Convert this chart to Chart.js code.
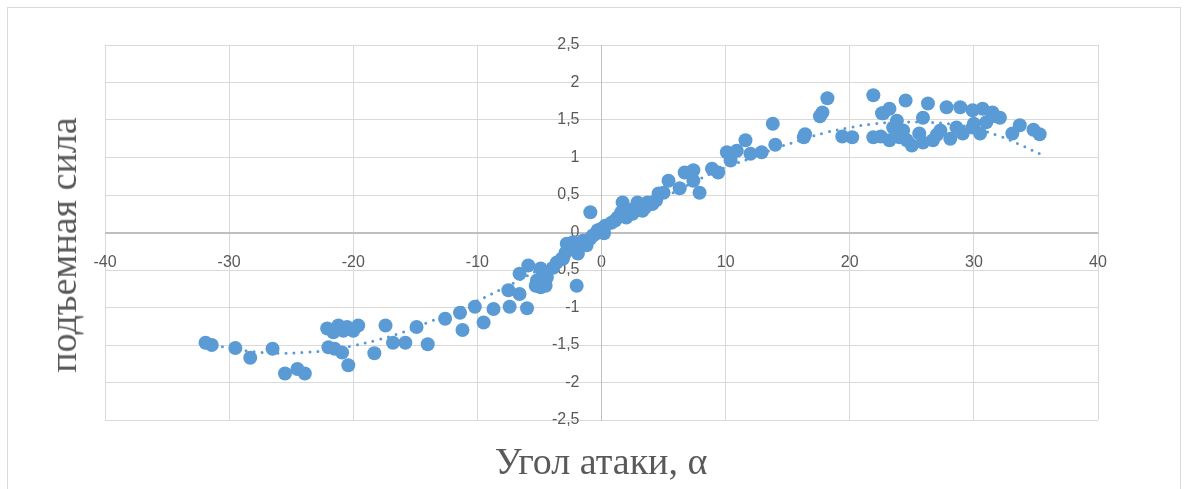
<!DOCTYPE html>
<html>
<head>
<meta charset="utf-8">
<script src="https://cdn.jsdelivr.net/npm/chart.js@4"></script>
<style>
  html, body { margin: 0; padding: 0; background: #fff; }
  #wrap { position: relative; width: 1186px; height: 489px; overflow: hidden; }
  #frame { position: absolute; left: 7px; top: 7px; width: 1172px; height: 500px; border: 1px solid #d9d9d9; }
  #chart { position: absolute; left: 0; top: 0; }
  .title { position: absolute; font-family: "Liberation Serif", "DejaVu Serif", serif; font-size: 38px; color: #595959; white-space: nowrap; }
  #xTitle { left: 601px; top: 461px; transform: translate(-50%, -50%); }
  #yTitle { left: 63px; top: 245px; transform: translate(-50%, -50%) rotate(-90deg); }
</style>
</head>
<body>
<div id="wrap">
  <div id="frame"></div>
  <canvas id="chart" width="1186" height="489"></canvas>
  <div class="title" id="xTitle">Угол атаки, α</div>
  <div class="title" id="yTitle">подъемная сила</div>
</div>
<script>
// measured points: angle of attack and lift
const alphaPts = [
  -31.9, -31.4, -29.5, -28.3, -26.5, -25.5, -24.5, -23.9,
  -22.1, -21.2, -20.5, -19.6, -22.0, -20.9, -20.4, -21.5, -21.6, -20.8, -20.0,
  -18.3, -17.4, -16.8, -15.8, -14.9, -14.0, -12.6, -11.4, -11.2, -10.2, -9.5,
  -8.7, -7.5, -7.4, -6.6, -6.0, -6.6, -5.9, -5.2, -4.9, -4.4, -3.9, -4.9,
  -5.3, -4.5, -3.6, -3.2, -2.9, -2.8, -2.0, -2.3, -2.1, -3.1, -1.9, -1.5, -1.2,
  -0.9, -0.9, -0.7, -0.5, -0.3, 0.0, 0.2, 0.3, 0.8, 1.1, 1.3, 1.6, 1.7, 2.0,
  2.3, 2.5, 2.9, 3.0, 3.3, 3.5, 3.7, 4.1, 4.4, 4.6, 5.0, 5.4, 6.3, 6.7,
  7.4, 7.4, 7.9, 8.9, 9.4, 10.1, 10.4, 10.9, 11.6, 12.0, 12.9, 13.8, 14.0,
  16.4, 16.3, 17.6, 17.8, 18.2, 19.4, 20.2, 21.9, 21.9, 22.6, 23.2, 24.5,
  26.3, 27.8, 28.9, 29.9, 30.7, 31.5, 32.1, 22.7, 23.8, 25.9, 23.2, 24.0,
  25.0, 25.6, 26.7, 28.1, 29.1, 30.5, 29.9, 31.0, 33.1, 33.7, 34.8, 35.3,
  23.5, 24.3, 27.3, 28.6, 24.6, 25.9, 22.5, 27.0, 31.5, 30.0
];
const liftPts = [
  -1.47, -1.50, -1.54, -1.67, -1.55, -1.88, -1.82, -1.88,
  -1.28, -1.24, -1.26, -1.24, -1.53, -1.60, -1.77, -1.55, -1.33, -1.31, -1.31,
  -1.61, -1.24, -1.47, -1.47, -1.26, -1.49, -1.15, -1.07, -1.30, -0.99, -1.20,
  -1.02, -0.77, -0.99, -0.82, -1.01, -0.55, -0.44, -0.64, -0.73, -0.60, -0.47, -0.48,
  -0.71, -0.71, -0.40, -0.35, -0.27, -0.15, -0.71, -0.13, -0.21, -0.35, -0.28, -0.11, -0.17,
  -0.08, 0.27, -0.04, -0.02, 0.03, 0.05, -0.01, 0.09, 0.13, 0.16, 0.20, 0.27, 0.40, 0.20,
  0.30, 0.25, 0.40, 0.30, 0.29, 0.33, 0.40, 0.38, 0.43, 0.52, 0.53, 0.69, 0.59, 0.80,
  0.83, 0.69, 0.53, 0.85, 0.80, 1.07, 0.96, 1.09, 1.23, 1.05, 1.07, 1.45, 1.17,
  1.31, 1.27, 1.55, 1.60, 1.79, 1.28, 1.27, 1.83, 1.27, 1.59, 1.65, 1.76,
  1.72, 1.67, 1.67, 1.63, 1.65, 1.60, 1.53, 1.59, 1.49, 1.53, 1.23, 1.27,
  1.16, 1.32, 1.23, 1.25, 1.32, 1.32, 1.40, 1.47, 1.32, 1.43, 1.37, 1.31,
  1.40, 1.36, 1.36, 1.40, 1.23, 1.20, 1.28, 1.30, 1.55, 1.45
];

// dotted trend line
const trendAlpha = [-31.8, -30, -28, -26, -24, -22, -20, -18, -16, -14, -12, -10, -8, -6, -4, -2,
  0, 2, 4, 6, 8, 10, 12, 14, 16, 18, 20, 22, 24, 26, 28, 30, 32, 34, 35.3];
const trendLift = [-1.48, -1.54, -1.59, -1.61, -1.60, -1.57, -1.51, -1.43, -1.33, -1.20, -1.06, -0.91, -0.75, -0.58, -0.40, -0.20,
  0.0, 0.19, 0.37, 0.55, 0.72, 0.87, 0.99, 1.12, 1.23, 1.33, 1.40, 1.45, 1.47, 1.47, 1.45, 1.39, 1.29, 1.15, 1.05];

const xTicks = [-40, -30, -20, -10, 0, 10, 20, 30, 40];
const yTicks = [-2.5, -2, -1.5, -1, -0.5, 0, 0.5, 1, 1.5, 2, 2.5];

const blue = '#5b9bd5';
const tickFont = { family: "'Liberation Sans', 'DejaVu Sans', sans-serif", size: 16 };

const scatterData = alphaPts.map((a, i) => ({ x: a, y: liftPts[i] }));
const trendData = trendAlpha.map((a, i) => ({ x: a, y: trendLift[i] }));

const fmt = v => String(v).replace('.', ',');

// both ranges are symmetric, so 'center' puts the axes through zero
new Chart(document.getElementById('chart'), {
  type: 'scatter',
  data: {
    datasets: [
      {
        data: scatterData,
        backgroundColor: blue,
        borderColor: blue,
        pointRadius: 7,
        pointBorderWidth: 0,
        order: 2
      },
      {
        type: 'line',
        data: trendData,
        borderColor: blue,
        borderWidth: 3,
        borderDash: [0, 8],
        borderCapStyle: 'round',
        pointRadius: 0,
        tension: 0.4,
        fill: false,
        order: 1
      }
    ]
  },
  options: {
    responsive: false,
    animation: false,
    layout: { padding: { left: 105, right: 88, top: 45, bottom: 69 } },
    plugins: { legend: { display: false }, tooltip: { enabled: false } },
    scales: {
      x: {
        type: 'linear',
        position: 'center',
        min: xTicks[0],
        max: xTicks[xTicks.length - 1],
        afterBuildTicks: s => { s.ticks = xTicks.map(v => ({ value: v })); },
        grid: {
          drawTicks: false,
          color: c => (c.tick && c.tick.value === 0) ? '#bfbfbf' : '#d9d9d9',
          lineWidth: 1
        },
        border: { color: '#bfbfbf', width: 1 },
        ticks: { color: '#595959', font: tickFont, padding: 20, maxRotation: 0, callback: fmt }
      },
      y: {
        type: 'linear',
        position: 'center',
        min: yTicks[0],
        max: yTicks[yTicks.length - 1],
        afterBuildTicks: s => { s.ticks = yTicks.map(v => ({ value: v })); },
        grid: {
          drawTicks: false,
          color: c => (c.tick && c.tick.value === 0) ? '#bfbfbf' : '#d9d9d9',
          lineWidth: 1
        },
        border: { color: '#bfbfbf', width: 1 },
        ticks: { color: '#595959', font: tickFont, padding: 22, callback: fmt }
      }
    }
  }
});
</script>
</body>
</html>
